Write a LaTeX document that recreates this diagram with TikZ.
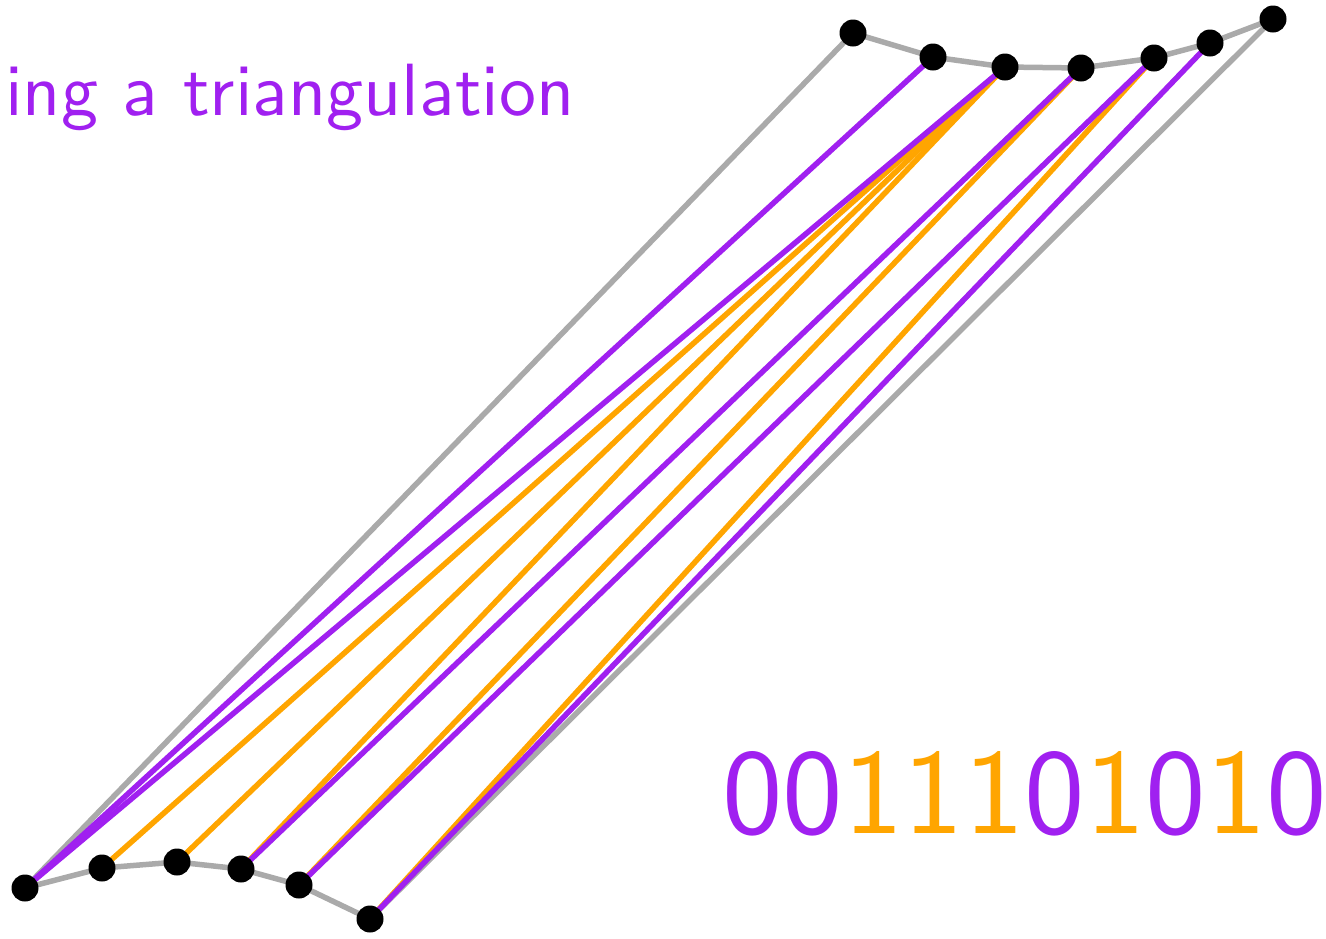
\documentclass[tikz,border=0pt]{standalone}
\usepackage{fontspec}
\newfontfamily\lmsten{lmsans10-regular}[Extension=.otf]
\definecolor{vpurple}{HTML}{A020F0}
\definecolor{vorange}{HTML}{FFA500}
\definecolor{vgray}{HTML}{AAAAAA}
\tikzset{
  dot/.style={circle,fill=black,inner sep=0pt,minimum size=27pt},
  rim/.style={draw=vgray,line width=5.5pt,line join=round},
  zeroedge/.style={draw=vpurple,line width=5.5pt},
  oneedge/.style={draw=vorange,line width=5.5pt},
}
\begin{document}
\begin{tikzpicture}[x=1pt,y=-1pt]
\useasboundingbox (0,0) rectangle (1326,938);
% vertices
\coordinate (t1) at (853,33);
\coordinate (t2) at (933,57);
\coordinate (t3) at (1005,67);
\coordinate (t4) at (1081,68);
\coordinate (t5) at (1154,58);
\coordinate (t6) at (1210,43);
\coordinate (t7) at (1273,19);
\coordinate (b1) at (25,888);
\coordinate (b2) at (102,868);
\coordinate (b3) at (177,862);
\coordinate (b4) at (241,869);
\coordinate (b5) at (299,885);
\coordinate (b6) at (370,919);
% boundary
\draw[rim] (t1) -- (t2) -- (t3) -- (t4) -- (t5) -- (t6) -- (t7);
\draw[rim] (b1) -- (b2) -- (b3) -- (b4) -- (b5) -- (b6);
\draw[rim] (b1) -- (t1);
\draw[rim] (b6) -- (t7);
% orange edges (1)
\draw[oneedge] (b2) -- (t3);
\draw[oneedge] (b3) -- (t3);
\draw[oneedge] (b4) -- (t3);
\draw[oneedge] (b5) -- (t4);
\draw[oneedge] (b6) -- (t5);
% purple edges (0)
\draw[zeroedge] (b1) -- (t2);
\draw[zeroedge] (b1) -- (t3);
\draw[zeroedge] (b4) -- (t4);
\draw[zeroedge] (b5) -- (t5);
\draw[zeroedge] (b6) -- (t6);
% dots
\foreach \p in {t1,t2,t3,t4,t5,t6,t7,b1,b2,b3,b4,b5,b6}
  \node[dot] (n\p) at (\p) {};
% texts
\node[anchor=base west,inner sep=0pt,text=vpurple,font=\lmsten\fontsize{74}{80}\selectfont] (title) at (5,115) {ing a triangulation};
\node[anchor=base west,inner sep=0pt,font=\lmsten\fontsize{121}{130}\selectfont] (code) at (722,833)
  {\textcolor{vpurple}{00}\textcolor{vorange}{111}\textcolor{vpurple}{0}\textcolor{vorange}{1}\textcolor{vpurple}{0}\textcolor{vorange}{1}\textcolor{vpurple}{0}};
\end{tikzpicture}
\end{document}
